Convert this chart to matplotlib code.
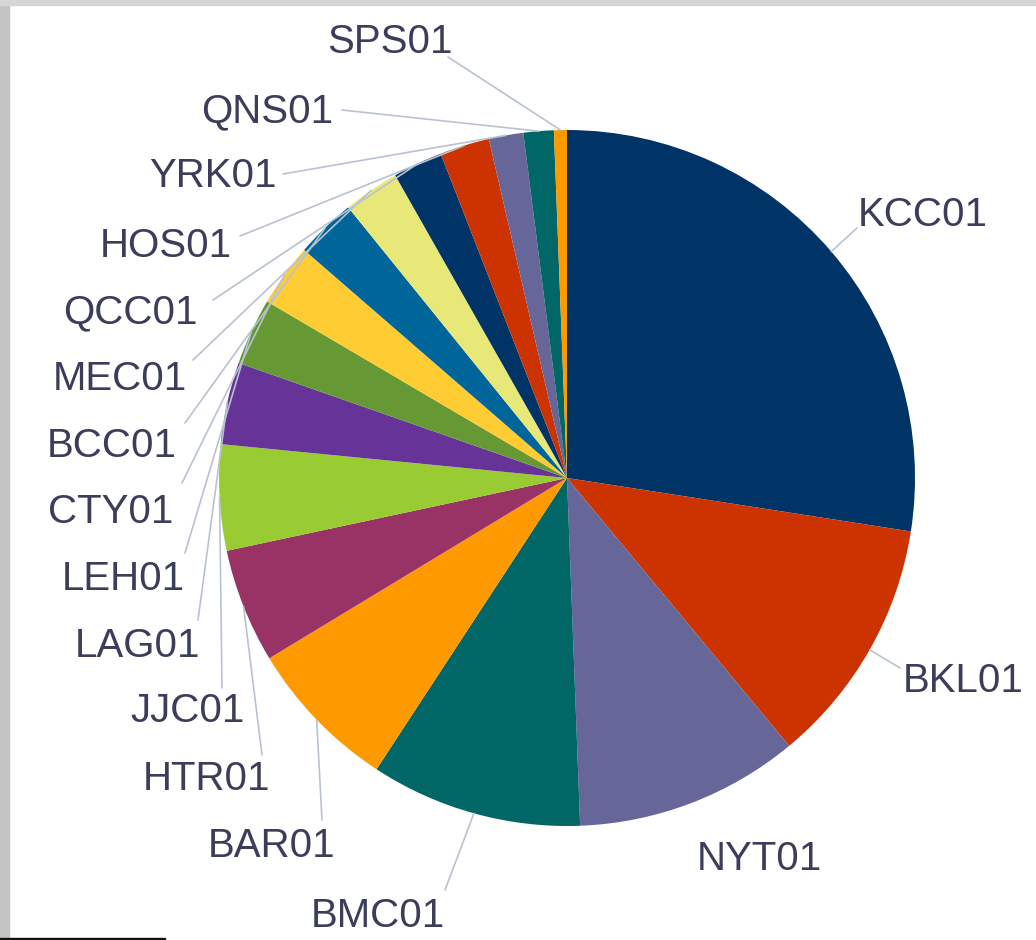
import numpy as np
import matplotlib.pyplot as plt
from matplotlib.patches import Rectangle

W, H = 1036, 940

# share of each site (percent), clockwise from 12 o'clock
sites = ['KCC01', 'BKL01', 'NYT01', 'BMC01', 'BAR01', 'HTR01', 'JJC01', 'LAG01', 'LEH01',
         'CTY01', 'BCC01', 'MEC01', 'QCC01', 'HOS01', 'YRK01', 'QNS01', 'SPS01']
shares = [27.4, 11.5, 10.4, 9.8, 7.1, 5.3, 4.9, 3.8, 3.1,
          2.9, 2.8, 2.6, 2.3, 2.3, 1.6, 1.4, 0.6]

palette = ['#003366', '#CC3300', '#666699', '#006666', '#FF9900', '#993366',
           '#99CC33', '#663399', '#669933', '#FFCC33', '#006699', '#E8E878']
colors = [palette[i % len(palette)] for i in range(len(sites))]

# label placement in pixels (x edge, baseline y, alignment, leader start or None)
label_pos = {
    'KCC01': (858, 226, 'left', (857, 228)),
    'BKL01': (903, 692, 'left', (900, 668)),
    'NYT01': (697, 870, 'left', None),
    'BMC01': (445, 927, 'right', (445, 890)),
    'BAR01': (335, 857, 'right', (322, 820)),
    'HTR01': (270, 790, 'right', (262, 755)),
    'JJC01': (245, 722, 'right', (222, 688)),
    'LAG01': (200, 657, 'right', (198, 620)),
    'LEH01': (185, 590, 'right', (185, 553)),
    'CTY01': (173, 523, 'right', (182, 483)),
    'BCC01': (177, 457, 'right', (185, 423)),
    'MEC01': (187, 390, 'right', (193, 360)),
    'QCC01': (198, 323, 'right', (213, 300)),
    'HOS01': (232, 257, 'right', (240, 236)),
    'YRK01': (277, 187, 'right', (283, 174)),
    'QNS01': (333, 122, 'right', (342, 110)),
    'SPS01': (453, 53, 'right', (448, 57)),
}

cx, cy, r = 567, 478, 348

fig = plt.figure(figsize=(W / 100, H / 100), dpi=100)
fig.patch.set_facecolor('white')
ax = fig.add_axes([0, 0, 1, 1])

wedges, _ = ax.pie(shares, colors=colors, startangle=90, counterclock=False,
                   center=(cx, H - cy), radius=r, wedgeprops=dict(linewidth=0))

for w, name in zip(wedges, sites):
    x, y, ha, start = label_pos[name]
    ax.text(x, H - y, name, ha=ha, va='baseline', fontsize=29,
            family='Liberation Sans', color='#3b3d5a')
    if start is not None:
        mid = np.deg2rad((w.theta1 + w.theta2) / 2)
        ex, ey = cx + r * np.cos(mid), (H - cy) + r * np.sin(mid)
        ax.plot([start[0], ex], [H - start[1], ey], color='#b8c2d2', lw=1.2,
                solid_capstyle='round')

ax.set_xlim(0, W)
ax.set_ylim(0, H)
ax.set_aspect('equal')
ax.axis('off')

# screenshot frame: grey strips on left and top, dark line at bottom left
fig.patches.append(Rectangle((0, 0), 9 / W, 1, transform=fig.transFigure,
                             color='#c4c4c4', zorder=5))
fig.patches.append(Rectangle((0, 1 - 5 / H), 1, 5 / H, transform=fig.transFigure,
                             color='#d6d6d6', zorder=5))
fig.patches.append(Rectangle((0, 0), 165 / W, 2.5 / H, transform=fig.transFigure,
                             color='#111111', zorder=6))

fig.savefig('out.png', dpi=100)
